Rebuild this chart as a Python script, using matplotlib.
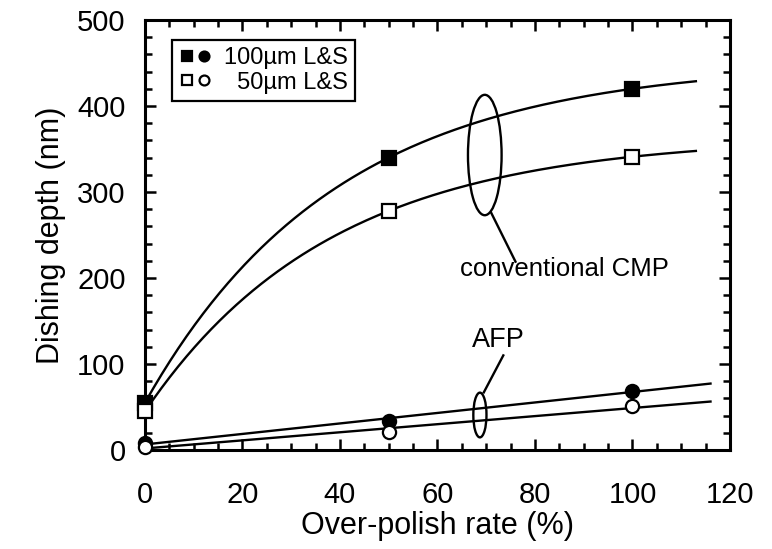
import numpy as np
import matplotlib
matplotlib.use("Agg")
import matplotlib.pyplot as plt
from matplotlib.patches import Ellipse
from matplotlib.legend_handler import HandlerTuple
from matplotlib.ticker import MultipleLocator

plt.rcParams['font.family'] = ['Liberation Sans', 'DejaVu Sans']

# ---- data ----
over_polish = [0, 50, 100]                 # %
cmp_100 = [55, 340, 420]                   # nm, filled squares
cmp_50 = [45, 278, 341]                    # nm, open squares
afp_100 = [8, 34, 69]                      # nm, filled circles
afp_50 = [4, 21, 51]                       # nm, open circles
cmp_curve_end = 113                        # fitted curves drawn to this x
afp_curve_end = 116
x_ticks = [0, 20, 40, 60, 80, 100, 120]
y_ticks = [0, 100, 200, 300, 400, 500]

# ---- fitted curves ----
def sat_fit(x, y):
    # y = A - B r^(x/50) through three equally spaced points
    r = (y[2] - y[1]) / (y[1] - y[0])
    B = (y[1] - y[0]) / (1 - r)
    A = y[0] + B
    return lambda t: A - B * r ** (np.asarray(t) / 50.0)

fig = plt.figure(figsize=(7.72, 5.49), dpi=100)
ax = fig.add_axes([0.1878, 0.1803, 0.7578, 0.7833])

xc = np.linspace(0, cmp_curve_end, 200)
xa = np.linspace(0, afp_curve_end, 200)
lw = 1.7
for y in (cmp_100, cmp_50):
    f = sat_fit(over_polish, y)
    ax.plot(xc, f(xc), color='black', lw=lw, zorder=2)
for y in (afp_100, afp_50):
    p = np.polyfit(over_polish, y, 1)
    ax.plot(xa, np.polyval(p, xa), color='black', lw=lw, zorder=2)

ms = 9.5
h1, = ax.plot(over_polish, cmp_100, 's', ms=ms, mfc='black', mec='black', mew=1.6, zorder=3, clip_on=False)
h2, = ax.plot(over_polish, cmp_50, 's', ms=ms, mfc='white', mec='black', mew=1.6, zorder=3, clip_on=False)
h3, = ax.plot(over_polish, afp_100, 'o', ms=ms, mfc='black', mec='black', mew=1.6, zorder=3, clip_on=False)
h4, = ax.plot(over_polish, afp_50, 'o', ms=ms, mfc='white', mec='black', mew=1.6, zorder=3, clip_on=False)

# ellipses and annotations
ax.add_patch(Ellipse((69.7, 343), 6.9, 140, fill=False, ec='black', lw=1.7, zorder=4))
ax.plot([71.0, 76.0], [276, 219], color='black', lw=1.7)
ax.text(86, 211, 'conventional CMP', fontsize=18.5, ha='center', va='center')

ax.add_patch(Ellipse((68.7, 40.7), 2.7, 52, fill=False, ec='black', lw=1.7, zorder=4))
ax.plot([69.5, 73.5], [67, 110], color='black', lw=1.7)
ax.text(72.5, 128, 'AFP', fontsize=19.5, ha='center', va='center')

ax.set_xlim(0, 120)
ax.set_ylim(0, 500)
ax.set_xticks(x_ticks)
ax.set_yticks(y_ticks)
ax.xaxis.set_minor_locator(MultipleLocator(5))
ax.yaxis.set_minor_locator(MultipleLocator(20))
ax.tick_params(which='both', direction='in', top=True, right=True, width=1.8, labelsize=21)
ax.tick_params(which='major', length=8)
ax.tick_params(which='minor', length=5)
ax.tick_params(axis='x', which='major', pad=22)
ax.tick_params(axis='y', which='major', pad=14)
for s in ax.spines.values():
    s.set_linewidth(2.2)

ax.set_xlabel('Over-polish rate (%)', fontsize=22, labelpad=2)
ax.set_ylabel('Dishing depth (nm)', fontsize=22, labelpad=8)

leg = ax.legend([(h1, h3), (h2, h4)], ['100µm L&S', '\u200750µm L&S'],
                handler_map={tuple: HandlerTuple(ndivide=None, pad=0.1)},
                loc='upper left', bbox_to_anchor=(0.046, 0.953), borderaxespad=0,
                fontsize=17, frameon=True, fancybox=False, edgecolor='black', framealpha=1,
                handlelength=1.4, handletextpad=0.5, borderpad=0.3, labelspacing=0.1,
                markerscale=0.75)
leg.get_frame().set_linewidth(1.6)

fig.savefig('out.png', dpi=100)
